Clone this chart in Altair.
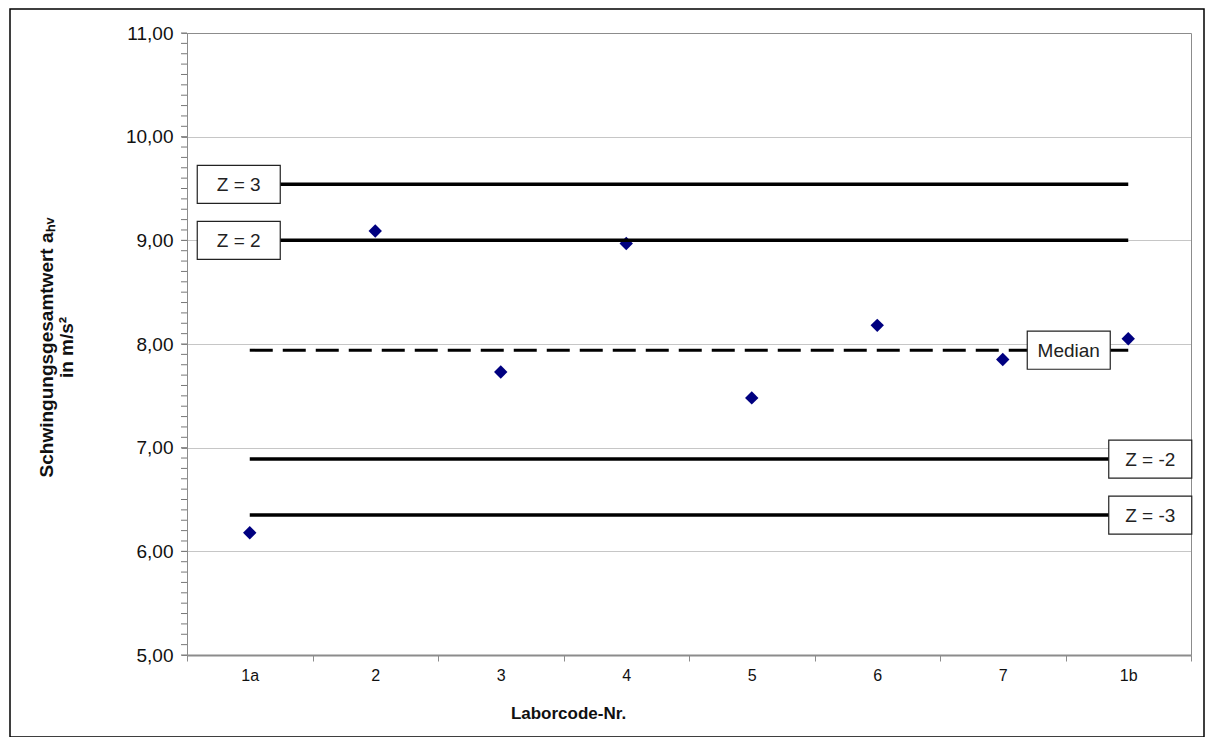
import altair as alt
import pandas as pd

# ---- data ----
labs = ["1a", "2", "3", "4", "5", "6", "7", "1b"]
values = [6.18, 9.09, 7.73, 8.97, 7.48, 8.18, 7.85, 8.05]

limit_labels = ["Z = 3", "Z = 2", "Median", "Z = -2", "Z = -3"]
limit_values = [9.54, 9.00, 7.94, 6.89, 6.35]
limit_kind = ["solid", "solid", "dashed", "solid", "solid"]
limit_side = ["left", "left", "median", "right", "right"]

major_ticks = [5, 6, 7, 8, 9, 10, 11]
minor_ticks = [round(5 + 0.1 * i, 1) for i in range(61)]

FONT = "Liberation Sans"
W, H = 1004, 622
RECT = "M-1,-0.458L1,-0.458L1,0.458L-1,0.458Z"
GRAY = "#8c8c8c"

pts = pd.DataFrame({"Labor": labs, "Wert": values})
lim = pd.DataFrame({"label": limit_labels, "value": limit_values,
                    "kind": limit_kind, "side": limit_side,
                    "start": labs[0], "end": labs[-1]})
minor_df = pd.DataFrame({"t": minor_ticks})

xscale = alt.Scale(type="band", domain=labs, paddingInner=0, paddingOuter=0)
yscale = alt.Scale(domain=[5, 11], nice=False, zero=False)

x_enc = alt.X("Labor:N", scale=xscale, sort=labs,
              axis=alt.Axis(title="Laborcode-Nr.", labelAngle=0, tickBand="extent",
                            domainColor=GRAY, domainWidth=2, tickColor=GRAY,
                            tickSize=6, labelPadding=6, labelFont=FONT, labelFontSize=16,
                            labelColor="#111", titleFont=FONT, titleFontSize=17,
                            titleFontWeight="bold", titleColor="#111",
                            titleX=381, titleY=58, titleAlign="center",
                            titleBaseline="middle", grid=False))
y_enc = alt.Y("Wert:Q", scale=yscale,
              axis=alt.Axis(title=["Schwingungsgesamtwert a\u2095\u1d65", "in m/s\u00b2"],
                            values=major_ticks, labelOverlap=False,
                            labelExpr="replace(format(datum.value, '.2f'), '.', ',')",
                            tickSize=6, tickColor=GRAY, domainColor=GRAY,
                            labelPadding=8, labelFont=FONT, labelFontSize=19,
                            labelColor="#111", titleFont=FONT, titleFontSize=19,
                            titleFontWeight="bold", titleColor="#111",
                            titleX=-141, titleY=314, titleAngle=-90, titleAlign="center",
                            titleBaseline="middle", titleLineHeight=20,
                            grid=True, gridColor=GRAY, gridDash=[1, 1], gridWidth=1))

points = alt.Chart(pts).mark_point(shape="diamond", filled=True, color="#000080",
                                   size=180, opacity=1).encode(x=x_enc, y=y_enc)

minor = alt.Chart(minor_df).mark_tick(
    color="#777777", orient="horizontal", size=6, thickness=1, xOffset=-3,
    opacity=1, clip=False).encode(
    y=alt.Y("t:Q", scale=yscale), x=alt.value(0))

base_lim = alt.Chart(lim)
solid = base_lim.transform_filter("datum.kind == 'solid'").mark_rule(
    color="black", strokeWidth=3.5).encode(
    x=alt.X("start:N", scale=xscale), x2="end:N", y=alt.Y("value:Q", scale=yscale))
dashed = base_lim.transform_filter("datum.kind == 'dashed'").mark_rule(
    color="black", strokeWidth=3, strokeDash=[23, 10]).encode(
    x=alt.X("start:N", scale=xscale), x2="end:N", y=alt.Y("value:Q", scale=yscale))


def boxes(side, anchor, dx):
    b = base_lim.transform_filter(f"datum.side == '{side}'").transform_calculate(
        anchor=f"'{anchor}'")
    enc = dict(x=alt.X("anchor:N", scale=xscale), y=alt.Y("value:Q", scale=yscale))
    box = b.mark_point(shape=RECT, size=83 ** 2, filled=True, fill="white",
                       stroke="#222", strokeWidth=1.2, opacity=1, fillOpacity=1,
                       strokeOpacity=1, xOffset=dx).encode(**enc)
    txt = b.mark_text(font=FONT, fontSize=19, color="#222", xOffset=dx,
                      baseline="middle", dy=1).encode(text="label:N", **enc)
    return [box, txt]


frame = alt.Chart(pd.DataFrame({"a": [0]})).mark_rect(
    fillOpacity=0, stroke="black", strokeWidth=1.5).encode(
    x=alt.value(-177), x2=alt.value(1017), y=alt.value(-24), y2=alt.value(704))

chart = alt.layer(*([points, minor, solid, dashed] + boxes("left", "1a", -11) +
                    boxes("median", "1b", -59.5) + boxes("right", "1b", 22) + [frame])
                  ).properties(
    width=W, height=H,
    autosize=alt.AutoSizeParams(type="none"),
    padding={"left": 179, "top": 25, "right": 14, "bottom": 82},
).configure(font=FONT).configure_view(stroke=GRAY, strokeWidth=1)

chart.save("out.html", embed_options={"renderer": "svg", "actions": False})
